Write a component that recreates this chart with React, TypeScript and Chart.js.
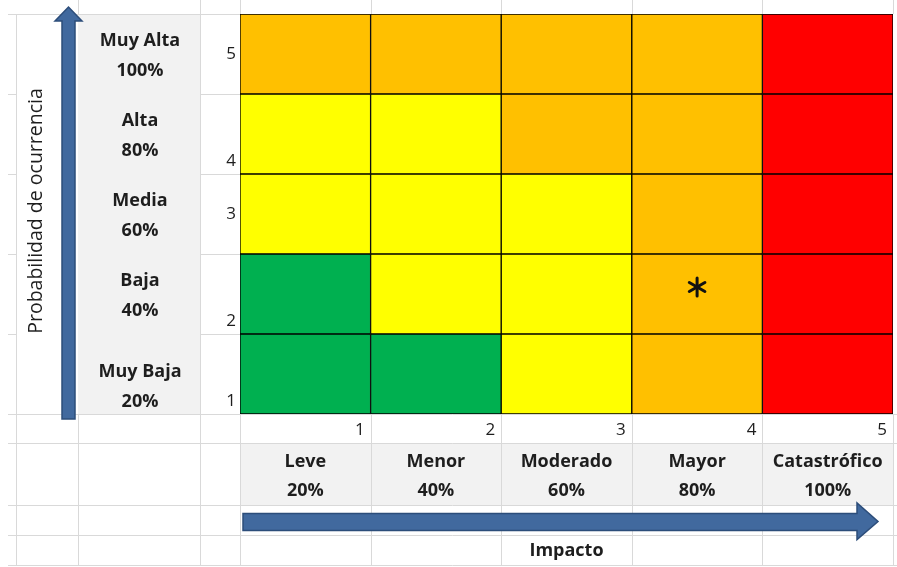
import { useEffect, useRef } from 'react';
import { Chart, registerables } from 'chart.js';

Chart.register(...registerables);

// ---- data ----
const impactLevels = ['1', '2', '3', '4', '5'];
const impactNames = ['Leve', 'Menor', 'Moderado', 'Mayor', 'Catastrófico'];
const impactPercents = ['20%', '40%', '60%', '80%', '100%'];
const probabilityLevels = [1, 2, 3, 4, 5];
const probabilityNames = ['Muy Baja', 'Baja', 'Media', 'Alta', 'Muy Alta'];
const probabilityPercents = ['20%', '40%', '60%', '80%', '100%'];
// zone of every cell: rows = probability 1 (bottom) .. 5 (top), columns = impact 1 .. 5
const riskZones = [
  ['low', 'low', 'moderate', 'high', 'extreme'],
  ['low', 'moderate', 'moderate', 'high', 'extreme'],
  ['moderate', 'moderate', 'moderate', 'high', 'extreme'],
  ['moderate', 'moderate', 'high', 'high', 'extreme'],
  ['high', 'high', 'high', 'high', 'extreme'],
];
const zoneColors: Record<string, string> = {
  low: '#00B050',
  moderate: '#FFFF00',
  high: '#FFC000',
  extreme: '#FF0000',
};
const markedImpact = '4';
const markedProbability = 2;
const axisTitleY = 'Probabilidad de ocurrencia';
const axisTitleX = 'Impacto';

const FONT = '"Open Sans", Lato, sans-serif';
const GRID = '#d9d9d9';
const TEXT = '#1e1e1e';
const ARROW_FILL = '#41699e';
const ARROW_STROKE = '#2c4d7a';

const sheetPlugin = {
  id: 'sheet',
  beforeDraw(chart: any) {
    const { ctx, chartArea: ca, width, height } = chart;
    const colW = (ca.right - ca.left) / impactLevels.length;
    const cols = impactLevels.map((_, i) => ca.left + i * colW).concat([ca.right]);
    ctx.save();
    ctx.fillStyle = '#ffffff';
    ctx.fillRect(0, 0, width, height);
    // grey label cells
    ctx.fillStyle = '#f2f2f2';
    ctx.fillRect(78, ca.top, 122, ca.bottom - ca.top);
    ctx.fillRect(ca.left, 443, ca.right - ca.left, 62);
    // gridlines
    ctx.strokeStyle = GRID;
    ctx.lineWidth = 1;
    const line = (x1: number, y1: number, x2: number, y2: number) => {
      ctx.beginPath();
      ctx.moveTo(x1, y1);
      ctx.lineTo(x2, y2);
      ctx.stroke();
    };
    line(16.5, ca.top, 16.5, 566);
    line(78.5, 0, 78.5, ca.top);
    line(78.5, ca.bottom, 78.5, 566);
    line(200.5, 0, 200.5, 566);
    cols.forEach((x) => {
      const px = Math.round(x) + 0.5;
      line(px, 0, px, ca.top);
      line(px, ca.bottom, px, 566);
    });
    line(8, ca.top + 0.5, ca.left, ca.top + 0.5);
    probabilityLevels.forEach((p) => {
      const y = Math.round(chart.scales.y.getPixelForValue(p - 1)) + 0.5;
      line(8, y, 16, y);
      line(200, y, ca.left, y);
    });
    [414.5, 443.5, 505.5, 535.5, 565.5].forEach((y) => line(8, y, width, y));
    ctx.restore();
  },
  afterDraw(chart: any) {
    const { ctx, chartArea: ca } = chart;
    const y = chart.scales.y;
    const colW = (ca.right - ca.left) / impactLevels.length;
    ctx.save();
    ctx.fillStyle = TEXT;
    ctx.textBaseline = 'middle';

    // probability labels
    ctx.textAlign = 'center';
    ctx.font = `bold 18px ${FONT}`;
    probabilityLevels.forEach((p, i) => {
      const c = (y.getPixelForValue(p) + y.getPixelForValue(p - 1)) / 2;
      const o = p === 1 ? 11 : 0;
      ctx.fillText(probabilityNames[i], 140, c - 13 + o);
      ctx.fillText(probabilityPercents[i], 140, c + 17 + o);
    });

    // probability numbers
    ctx.textAlign = 'right';
    ctx.font = `17px ${FONT}`;
    probabilityLevels.forEach((p) => {
      const top = y.getPixelForValue(p);
      const bottom = y.getPixelForValue(p - 1);
      const middleAligned = p === 5 || p === 3;
      const ty = middleAligned ? (top + bottom) / 2 : bottom - 13;
      ctx.fillText(String(p), 236, ty);
    });

    // impact numbers and labels
    impactLevels.forEach((lvl, i) => {
      const left = ca.left + i * colW;
      ctx.textAlign = 'right';
      ctx.font = `17px ${FONT}`;
      ctx.fillText(lvl, left + colW - 6, 430);
      ctx.textAlign = 'center';
      ctx.font = `bold 18px ${FONT}`;
      ctx.fillText(impactNames[i], left + colW / 2, 462);
      ctx.fillText(impactPercents[i], left + colW / 2, 491);
    });

    // axis titles
    ctx.textAlign = 'center';
    ctx.font = `bold 18px ${FONT}`;
    ctx.fillText(axisTitleX, (ca.left + ca.right) / 2, 551);
    ctx.save();
    ctx.translate(36, 211);
    ctx.rotate(-Math.PI / 2);
    ctx.font = `19.5px ${FONT}`;
    ctx.fillText(axisTitleY, 0, 0);
    ctx.restore();

    // arrows
    ctx.fillStyle = ARROW_FILL;
    ctx.strokeStyle = ARROW_STROKE;
    ctx.lineWidth = 1.5;
    ctx.beginPath();
    ctx.moveTo(62, 419);
    ctx.lineTo(62, 21);
    ctx.lineTo(55, 21);
    ctx.lineTo(68.5, 7);
    ctx.lineTo(82, 21);
    ctx.lineTo(75, 21);
    ctx.lineTo(75, 419);
    ctx.closePath();
    ctx.fill();
    ctx.stroke();
    ctx.beginPath();
    ctx.moveTo(243, 513.5);
    ctx.lineTo(857, 513.5);
    ctx.lineTo(857, 503);
    ctx.lineTo(878, 521.5);
    ctx.lineTo(857, 539.5);
    ctx.lineTo(857, 530.5);
    ctx.lineTo(243, 530.5);
    ctx.closePath();
    ctx.fill();
    ctx.stroke();

    // marked cell asterisk
    const meta = chart.getDatasetMeta(probabilityLevels.length);
    const pt = meta.data[0];
    if (pt) {
      ctx.strokeStyle = '#111';
      ctx.lineWidth = 3;
      ctx.lineCap = 'round';
      const r = 9;
      [90, 30, 150].forEach((deg) => {
        const a = (deg * Math.PI) / 180;
        ctx.beginPath();
        ctx.moveTo(pt.x - r * Math.cos(a), pt.y - 7 - r * Math.sin(a));
        ctx.lineTo(pt.x + r * Math.cos(a), pt.y - 7 + r * Math.sin(a));
        ctx.stroke();
      });
    }
    ctx.restore();
  },
};

export default function App() {
  const ref = useRef<HTMLCanvasElement | null>(null);
  useEffect(() => {
    if (!ref.current) return;
    const datasets: any[] = probabilityLevels.map((p, i) => ({
      type: 'bar',
      label: probabilityNames[i],
      data: impactLevels.map(() => [p - 1, p]),
      backgroundColor: riskZones[i].map((z) => zoneColors[z]),
      borderColor: '#000000',
      borderWidth: 1,
      borderSkipped: false,
      grouped: false,
      barPercentage: 1,
      categoryPercentage: 1,
    }));
    datasets.push({
      type: 'line',
      label: 'marked',
      data: [{ x: markedImpact, y: markedProbability - 0.5 }],
      showLine: false,
      pointRadius: 0,
    });
    const chart = new Chart(ref.current, {
      type: 'bar',
      data: { labels: impactLevels, datasets },
      options: {
        responsive: false,
        animation: false,
        layout: { padding: { left: 240, right: 4, top: 14, bottom: 153 } },
        plugins: { legend: { display: false }, tooltip: { enabled: false } },
        scales: {
          x: { type: 'category', display: false, offset: true },
          y: { type: 'linear', display: false, min: 0, max: 5 },
        },
      },
      plugins: [sheetPlugin],
    });
    return () => chart.destroy();
  }, []);
  return (
    <div style={{ position: 'fixed', left: 0, top: 0, width: 897, height: 567, background: '#fff' }}>
      <canvas ref={ref} width={897} height={567} style={{ display: 'block' }} />
    </div>
  );
}
